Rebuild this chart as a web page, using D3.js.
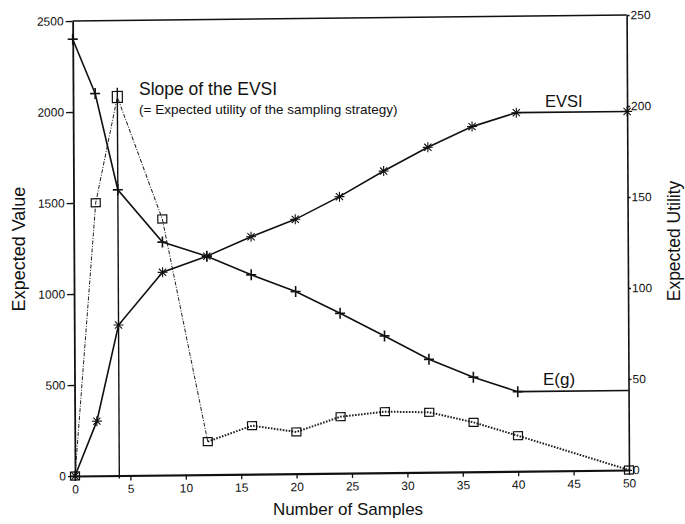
<!DOCTYPE html>
<html>
<head>
<meta charset="utf-8">
<script src="https://cdn.jsdelivr.net/npm/d3@7"></script>
<style>
  html, body { margin: 0; padding: 0; background: #fff; }
  svg { display: block; font-family: "Liberation Sans", Arial, Helvetica, sans-serif; }
  .tick text { fill: #111; }
</style>
</head>
<body>
<svg id="chart" width="685" height="524"></svg>
<script>
// Number of samples taken
const samples = [0, 2, 4, 8, 12, 16, 20, 24, 28, 32, 36, 40, 50];
// Expected value of sample information (left axis)
const evsi = [0, 300, 827, 1114, 1200, 1304, 1397, 1519, 1657, 1785, 1896, 1970, 1970];
// Expected gain E(g) (left axis)
const expectedGain = [2400, 2100, 1570, 1280, 1200, 1095, 1000, 878, 751, 620, 519, 437, 437];
// Slope of the EVSI = expected utility of the sampling strategy (right axis)
const evsiSlope = [0, 150, 208, 140.7, 18.1, 26.6, 22.9, 31, 33.5, 32.9, 27.1, 19.5, 0];
// Optimal sampling marker (x position, height on right axis)
const optimumSamples = 4;
const optimumHeight = 213;

const leftTicks = [0, 500, 1000, 1500, 2000, 2500];
const rightTicks = [0, 50, 100, 150, 200, 250];
const xTicks = [0, 5, 10, 15, 20, 25, 30, 35, 40, 45, 50];

const svg = d3.select("#chart");

const x = d3.scaleLinear().domain([0, 50]).range([75, 629]);
const yL = d3.scaleLinear().domain([0, 2500]).range([476, 21]);
const yR = d3.scaleLinear().domain([0, 250]).range([476, 21]);

// plotting frame, very slightly tilted like a scanned page
const g = svg.append("g")
  .attr("transform", "translate(75,476) rotate(-0.3) skewY(-0.32) translate(-75,-476)");

// frame: top border
g.append("line")
  .attr("x1", x(0)).attr("x2", x(50))
  .attr("y1", yL(2500)).attr("y2", yL(2500))
  .attr("stroke", "#111").attr("stroke-width", 1.6);

// axes
const axisStyle = sel => {
  sel.selectAll("path.domain").attr("stroke", "#111");
  sel.selectAll(".tick line").attr("stroke", "#111").attr("stroke-width", 1.3);
  sel.selectAll(".tick text").attr("font-size", 12).attr("font-family", "Liberation Sans, Arial, sans-serif");
};

g.append("g").attr("transform", `translate(${x(0)},0)`)
  .call(d3.axisLeft(yL).tickValues(leftTicks).tickSize(7).tickPadding(2).tickSizeOuter(0).tickFormat(d3.format("d")))
  .call(axisStyle)
  .call(s => s.select("path.domain").attr("stroke-width", 1.8));

g.append("g").attr("transform", `translate(${x(50)},0)`)
  .call(d3.axisRight(yR).tickValues(rightTicks).tickSize(3).tickPadding(1).tickSizeOuter(0).tickFormat(d3.format("d")))
  .call(axisStyle)
  .call(s => s.select("path.domain").attr("stroke-width", 1.6));

g.append("g").attr("transform", `translate(0,${yL(0)})`)
  .call(d3.axisBottom(x).tickValues(xTicks).tickSize(5).tickPadding(4).tickSizeOuter(0).tickFormat(d3.format("d")))
  .call(axisStyle)
  .call(s => s.select("path.domain").attr("stroke-width", 2.2));

// optimum marker line
g.append("line")
  .attr("x1", x(optimumSamples)).attr("x2", x(optimumSamples))
  .attr("y1", yR(0) + 3).attr("y2", yR(optimumHeight))
  .attr("stroke", "#111").attr("stroke-width", 1.4);

const idx = d3.range(samples.length);

// slope of the EVSI: thin dashed up to 12 samples, heavy dotted afterwards
const slopeLine = d3.line().x(i => x(samples[i])).y(i => yR(evsiSlope[i]));
g.append("path").attr("d", slopeLine(idx.filter(i => samples[i] <= 12)))
  .attr("fill", "none").attr("stroke", "#222").attr("stroke-width", 1)
  .attr("stroke-dasharray", "4,1.5,1,1.5");
g.append("path").attr("d", slopeLine(idx.filter(i => samples[i] >= 12)))
  .attr("fill", "none").attr("stroke", "#222").attr("stroke-width", 2)
  .attr("stroke-dasharray", "1.6,1.4");

// EVSI and E(g) solid lines
g.append("path").attr("d", d3.line().x(i => x(samples[i])).y(i => yL(evsi[i]))(idx))
  .attr("fill", "none").attr("stroke", "#111").attr("stroke-width", 1.6);
g.append("path").attr("d", d3.line().x(i => x(samples[i])).y(i => yL(expectedGain[i]))(idx))
  .attr("fill", "none").attr("stroke", "#111").attr("stroke-width", 1.6);

// markers
const plusPath = "M-5,0H5M0,-5.5V5.5";
const starPath = "M0,-5V5M-5,0H5M-3.6,-3.6L3.6,3.6M-3.6,3.6L3.6,-3.6";

g.append("g").selectAll("path")
  .data(idx.filter(i => samples[i] < 50))
  .join("path")
  .attr("transform", i => `translate(${x(samples[i])},${yL(expectedGain[i])})`)
  .attr("d", plusPath).attr("stroke", "#111").attr("stroke-width", 1.6).attr("fill", "none");

g.append("g").selectAll("path")
  .data(idx)
  .join("path")
  .attr("transform", i => `translate(${x(samples[i])},${yL(evsi[i])})`)
  .attr("d", starPath).attr("stroke", "#111").attr("stroke-width", 1.1).attr("fill", "none");

g.append("g").selectAll("rect")
  .data(idx)
  .join("rect")
  .attr("x", i => x(samples[i]) - (samples[i] === optimumSamples ? 5 : 4.5))
  .attr("y", i => yR(evsiSlope[i]) - (samples[i] === optimumSamples ? 5.5 : 4))
  .attr("width", i => samples[i] === optimumSamples ? 10 : 9)
  .attr("height", i => samples[i] === optimumSamples ? 11 : 8)
  .attr("fill", "none").attr("stroke", "#111").attr("stroke-width", 1.2);

// annotations
svg.append("text").attr("x", 139).attr("y", 95)
  .attr("font-size", 17.5).attr("fill", "#111").text("Slope of the EVSI");
svg.append("text").attr("x", 139).attr("y", 114)
  .attr("font-size", 13.5).attr("fill", "#111").text("(= Expected utility of the sampling strategy)");
svg.append("text").attr("x", 545).attr("y", 107)
  .attr("font-size", 16.5).attr("fill", "#111").text("EVSI");
svg.append("text").attr("x", 543).attr("y", 385)
  .attr("font-size", 17).attr("fill", "#111").text("E(g)");

// axis titles
svg.append("text").attr("x", 348).attr("y", 515).attr("text-anchor", "middle")
  .attr("font-size", 17).attr("fill", "#111").text("Number of Samples");
svg.append("text").attr("transform", "translate(25,249) rotate(-90)").attr("text-anchor", "middle")
  .attr("font-size", 18).attr("fill", "#111").text("Expected Value");
svg.append("text").attr("transform", "translate(680,241) rotate(-90)").attr("text-anchor", "middle")
  .attr("font-size", 17.5).attr("fill", "#111").text("Expected Utility");
</script>
</body>
</html>
